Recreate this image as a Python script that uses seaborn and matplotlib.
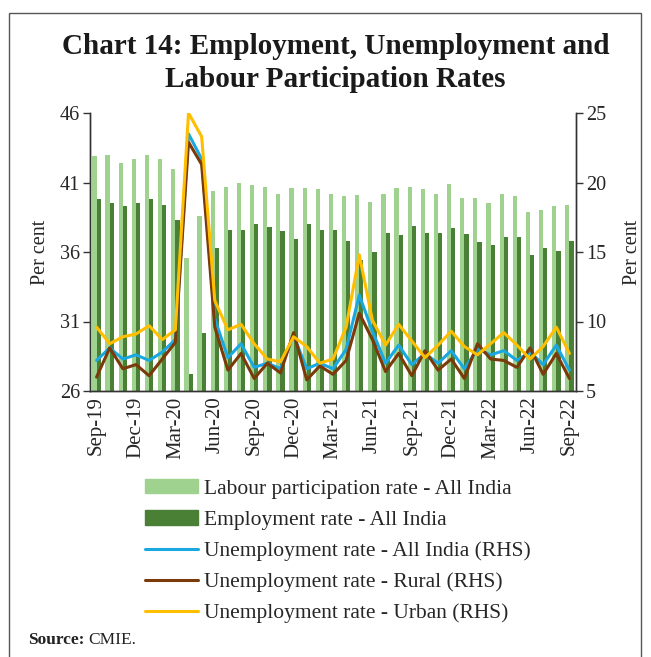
import matplotlib
matplotlib.use("Agg")
import matplotlib.pyplot as plt
import seaborn as sns
import pandas as pd
import numpy as np
from matplotlib.patches import Patch, Rectangle
from matplotlib.lines import Line2D

# monthly, Sep-19 .. Sep-22
months = list(pd.date_range("2019-09-01", periods=37, freq="MS").strftime("%b-%y"))

lpr = [42.9, 43.0, 42.4, 42.7, 43.0, 42.7, 42.0, 35.6, 38.6, 40.4, 40.7, 41.0,
       40.8, 40.7, 40.2, 40.6, 40.6, 40.5, 40.2, 40.0, 40.1, 39.6, 40.2, 40.6,
       40.7, 40.5, 40.2, 40.9, 39.9, 39.9, 39.5, 40.2, 40.0, 38.9, 39.0, 39.3, 39.4]
er = [39.8, 39.5, 39.3, 39.5, 39.8, 39.4, 38.3, 27.2, 30.2, 36.3, 37.6, 37.6,
      38.0, 37.8, 37.5, 36.9, 38.0, 37.6, 37.6, 36.8, 35.4, 36.0, 37.4, 37.2,
      37.9, 37.4, 37.4, 37.7, 37.3, 36.7, 36.5, 37.1, 37.1, 35.8, 36.3, 36.1, 36.8]
ue_all = [7.2, 8.1, 7.3, 7.6, 7.2, 7.8, 8.7, 23.5, 21.7, 10.2, 7.4, 8.4,
          6.7, 7.0, 6.6, 9.0, 6.6, 7.0, 6.6, 8.0, 11.9, 9.3, 7.0, 8.3,
          6.9, 7.7, 7.0, 7.9, 6.6, 8.0, 7.6, 7.9, 7.2, 7.8, 6.9, 8.3, 6.5]
ue_rural = [6.0, 8.1, 6.6, 6.9, 6.1, 7.3, 8.5, 22.9, 21.3, 9.6, 6.5, 7.7,
            5.9, 7.0, 6.3, 9.2, 5.8, 6.8, 6.2, 7.2, 10.6, 8.7, 6.4, 7.7,
            6.1, 7.9, 6.5, 7.3, 5.9, 8.4, 7.3, 7.2, 6.7, 8.1, 6.2, 7.7, 5.9]
ue_urban = [9.6, 8.4, 8.9, 9.1, 9.7, 8.7, 9.4, 25.0, 23.3, 11.5, 9.4, 9.8,
            8.4, 7.3, 7.1, 8.9, 8.2, 7.0, 7.3, 9.6, 14.8, 10.1, 8.3, 9.8,
            8.6, 7.4, 8.3, 9.3, 8.2, 7.6, 8.4, 9.2, 8.3, 7.3, 8.2, 9.6, 7.7]

lab_lpr = "Labour participation rate - All India"
lab_er = "Employment rate - All India"
lab_all = "Unemployment rate - All India (RHS)"
lab_rur = "Unemployment rate - Rural (RHS)"
lab_urb = "Unemployment rate - Urban (RHS)"

c_lpr, c_er = "#9fd18f", "#4a7f36"
c_all, c_rur, c_urb = "#1aa8e0", "#7a3a0a", "#ffbf00"

sns.set_theme(style="white")
plt.rcParams["font.family"] = ["Liberation Serif", "DejaVu Serif"]

fig = plt.figure(figsize=(6.51, 6.57), dpi=100)
ax = fig.add_axes([90/651, 1-391/657, 486/651, 278/657])

bars = pd.DataFrame({"month": months * 2, "value": lpr + er,
                     "series": [lab_lpr] * 37 + [lab_er] * 37})
sns.barplot(data=bars, x="month", y="value", hue="series", order=months,
            hue_order=[lab_lpr, lab_er], palette=[c_lpr, c_er], width=0.64,
            saturation=1, linewidth=0, legend=False, ax=ax)
ax.set_ylim(26, 46)
ax.set_yticks([26, 31, 36, 41, 46])
ax.set_xlim(-0.5, 36.5)

idx = np.arange(len(months))
ax2 = ax.twinx()
for vals, col in [(ue_all, c_all), (ue_rural, c_rur), (ue_urban, c_urb)]:
    sns.lineplot(x=idx, y=vals, color=col, lw=2.2, ax=ax2)
ax2.set_ylim(5, 25)
ax2.set_yticks([5, 10, 15, 20, 25])
ax2.set_xlim(-0.5, 36.5)

ax.set_xticks(idx[::3])
ax.set_xticklabels(months[::3], rotation=90, fontsize=15)
ax.set_xticks(np.arange(-0.5, 37, 3), minor=True)
ax.tick_params(axis="x", which="major", length=0, pad=4)
ax.tick_params(axis="x", which="minor", length=5, width=1, color="#333", direction="out")
ax.tick_params(axis="y", length=5, width=1, color="#333", direction="out", labelsize=14.5, pad=2)
ax2.tick_params(axis="y", length=5, width=1, color="#333", direction="out", labelsize=14.5, pad=2)
ax.set_xlabel("")
for a in (ax, ax2):
    a.spines["top"].set_visible(False)
    for s in ("left", "right", "bottom"):
        a.spines[s].set_color("#333")
        a.spines[s].set_linewidth(1)
ax.set_ylabel("Per cent", fontsize=14.5)
ax2.set_ylabel("Per cent", fontsize=14.5)
ax.yaxis.set_label_coords(-0.082, 0.5)
ax2.yaxis.set_label_coords(1.097, 0.5)

fig.text(0.515, 1-63/657, "Chart 14: Employment, Unemployment and\nLabour Participation Rates",
         ha="center", va="center", fontsize=21, fontweight="bold", color="#1a1a1a",
         linespacing=1.3, transform=fig.transFigure)

handles = [Patch(color=c_lpr), Patch(color=c_er),
           Line2D([], [], color=c_all, lw=2.2), Line2D([], [], color=c_rur, lw=2.2),
           Line2D([], [], color=c_urb, lw=2.2)]
fig.legend(handles, [lab_lpr, lab_er, lab_all, lab_rur, lab_urb],
           loc="upper left", bbox_to_anchor=(145/651, 1-479/657), frameon=False,
           fontsize=15.5, handlelength=2.45, handleheight=0.65, handletextpad=0.3,
           labelspacing=0.53, borderpad=0, borderaxespad=0)

fig.canvas.draw()
src = fig.text(28/651, 1-640/657, "Source:", fontsize=12.5, fontweight="bold",
               va="center", color="#222")
bb = src.get_window_extent(fig.canvas.get_renderer())
fig.text(bb.x1/651 + 4/651, 1-640/657, "CMIE.", fontsize=12.5, va="center", color="#222")

fig.add_artist(Rectangle((9/651, -0.05), 632/651, 1.05 - 13/657, transform=fig.transFigure,
                         fill=False, lw=1, ec="#555"))

fig.savefig("out.png", dpi=100)
